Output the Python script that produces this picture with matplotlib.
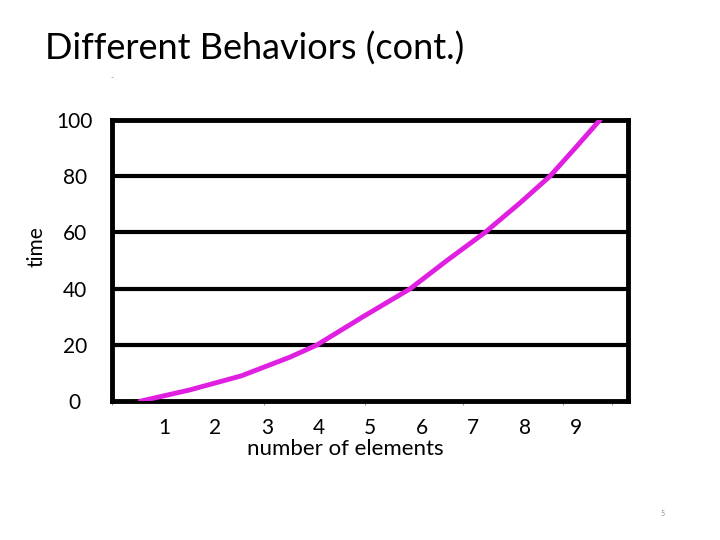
import numpy as np
import matplotlib.pyplot as plt

# curve
n_elements = [0.54, 1.5, 2.5, 3.45, 3.97, 4.86, 5.78, 6.49, 7.23, 7.91, 8.49, 8.98, 9.46]
time_vals = [0, 4, 9, 15.7, 20, 30, 40, 50, 60, 70.5, 80, 90, 100]
x_labels = [1, 2, 3, 4, 5, 6, 7, 8, 9]
y_labels = [0, 20, 40, 60, 80, 100]

plt.rcParams['font.family'] = ['Lato', 'DejaVu Sans']

fig = plt.figure(figsize=(7.2, 5.4), dpi=100)
ax = fig.add_axes([0.156, 0.257, 0.716, 0.521])

for y in y_labels[1:-1]:
	ax.axhline(y, color='black', lw=3, zorder=1)

ax.plot(n_elements, time_vals, color='#e020e0', lw=3.5, solid_capstyle='round', zorder=3)

ax.set_xlim(0, 10)
ax.set_ylim(0, 100)
for s in ax.spines.values():
	s.set_linewidth(3.5)

ax.set_xticks(x_labels)
ax.set_xticklabels([str(v) for v in x_labels])
ax.set_xticks([0, 1, 2.95, 4.9, 6.8, 8.75, 9.7], minor=True)
ax.tick_params(axis='x', which='major', length=0, pad=12, labelsize=15)
ax.tick_params(axis='x', which='minor', length=3, width=0.8, color='#999999')

ax.set_yticks(y_labels)
ax.set_yticklabels([str(v) for v in y_labels])
for t in ax.get_yticklabels():
	t.set_horizontalalignment('center')
ax.tick_params(axis='y', length=0, pad=27, labelsize=15)

ax.set_xlabel('number of elements', fontsize=16)
ax.xaxis.set_label_coords(0.452, -0.135)
ax.set_ylabel('time', fontsize=15)
ax.yaxis.set_label_coords(-0.128, 0.55)

fig.text(0.0625, 0.91, 'Different Behaviors (cont.)', fontsize=26,
	va='center', ha='left')
fig.text(0.153, 0.852, '-', fontsize=6, color='#888888')
fig.text(0.918, 0.045, '5', fontsize=5, color='#888888')

fig.savefig('out.png', dpi=100)
